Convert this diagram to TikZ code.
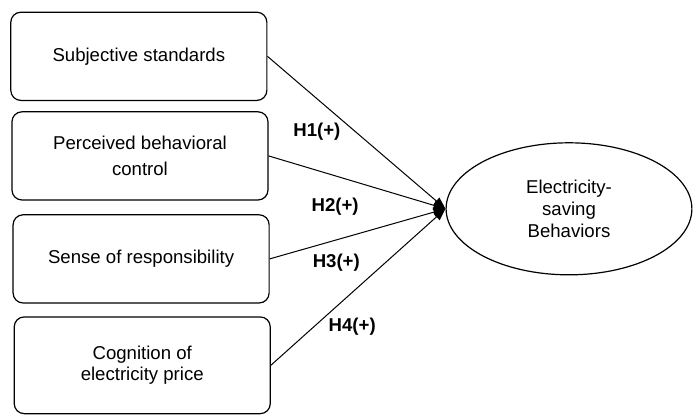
\documentclass[tikz,border=0pt]{standalone}
\usepackage{fontspec}
\setmainfont{Liberation Sans}
\usetikzlibrary{arrows.meta,shapes.geometric}

\begin{document}
\begin{tikzpicture}[
    factor/.style={draw, rounded corners=5pt, minimum width=4.5cm, minimum height=1.55cm,
      align=center, line width=0.6pt, font=\fontsize{9.3}{10.8}\selectfont},
    outcome/.style={draw, ellipse, minimum width=4.32cm, minimum height=2.32cm,
      align=center, line width=0.6pt, font=\fontsize{9.3}{10.8}\selectfont},
    hyp/.style={font=\fontsize{9.3}{11}\selectfont\bfseries},
    link/.style={-{Triangle[length=6pt,width=4.5pt]}, line width=0.5pt}]
  \useasboundingbox (0,0) rectangle (12.25,7.33);
  % determinants
  \node[factor] (subj) at (2.44,6.34) {Subjective standards};
  \node[factor, font=\fontsize{9.3}{13.3}\selectfont] (pbc) at (2.46,4.59) {Perceived behavioral\\control};
  \node[factor] (resp) at (2.48,2.78) {Sense of responsibility};
  \node[factor, minimum height=1.7cm] (price) at (2.50,0.91) {Cognition of\\electricity price};
  % outcome
  \node[outcome] (esb) at (10.0,3.66) {Electricity-\\saving\\Behaviors};
  \draw[link] (subj.east) -- (esb.west);
  \draw[link] (pbc.east) -- (esb.west);
  \draw[link] (resp.east) -- (esb.west);
  \draw[link] (price.east) -- (esb.west);
  % hypotheses
  \node[hyp] (h1) at (5.57,5.01) {H1(+)};
  \node[hyp] (h2) at (5.89,3.69) {H2(+)};
  \node[hyp] (h3) at (5.91,2.72) {H3(+)};
  \node[hyp] (h4) at (6.19,1.58) {H4(+)};
\end{tikzpicture}
\end{document}
